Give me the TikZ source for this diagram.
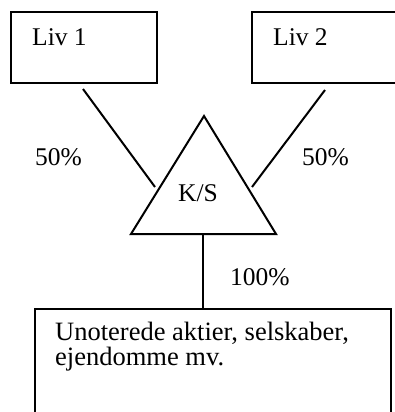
\documentclass[tikz,border=0pt]{standalone}
\usepackage{fontspec}
\setmainfont{Liberation Serif}
\begin{document}
\begin{tikzpicture}[x=1pt,y=-1pt,
  box/.style={draw=black,line width=2pt,anchor=north west,inner sep=0pt},
  lbl/.style={anchor=base west,inner sep=0pt,font=\fontsize{25.5}{24.5}\selectfont},
  conn/.style={line width=2pt}]
\useasboundingbox (0,0) rectangle (395,412);
% boxes
\node[box,minimum width=146pt,minimum height=71pt] (liv1) at (10,11) {};
\node[box,minimum width=160pt,minimum height=71pt] (liv2) at (251,11) {};
\node[box,minimum width=356pt,minimum height=120pt] (bund) at (34,308) {};
% texts
\node[lbl] (t1) at (32,46) {Liv 1};
\node[lbl] (t2) at (273,46) {Liv 2};
\node[lbl] (p1) at (35,165) {50\%};
\node[lbl] (p2) at (302,165) {50\%};
\node[lbl] (p3) at (230,285) {100\%};
\node[lbl] (ks) at (178,201) {K/S};
\node[lbl,align=left,font=\fontsize{26.5}{24.5}\selectfont] (tb) at (55,365) {Unoterede aktier, selskaber,\\ejendomme mv.};
% triangle
\coordinate (apex) at (204,116);
\coordinate (bl) at (131,234);
\coordinate (br) at (276,234);
\coordinate (bm) at (203,234);
\draw[conn,line join=miter] (apex) -- (bl) -- (br) -- cycle;
% connectors
\coordinate (a1) at (83,89);
\coordinate (a2) at (155,187);
\coordinate (b1) at (325,90);
\coordinate (b2) at (252,187);
\draw[conn] (a1) -- (a2);
\draw[conn] (b1) -- (b2);
\draw[conn] (bm) -- (bund.north -| bm);
\end{tikzpicture}
\end{document}
